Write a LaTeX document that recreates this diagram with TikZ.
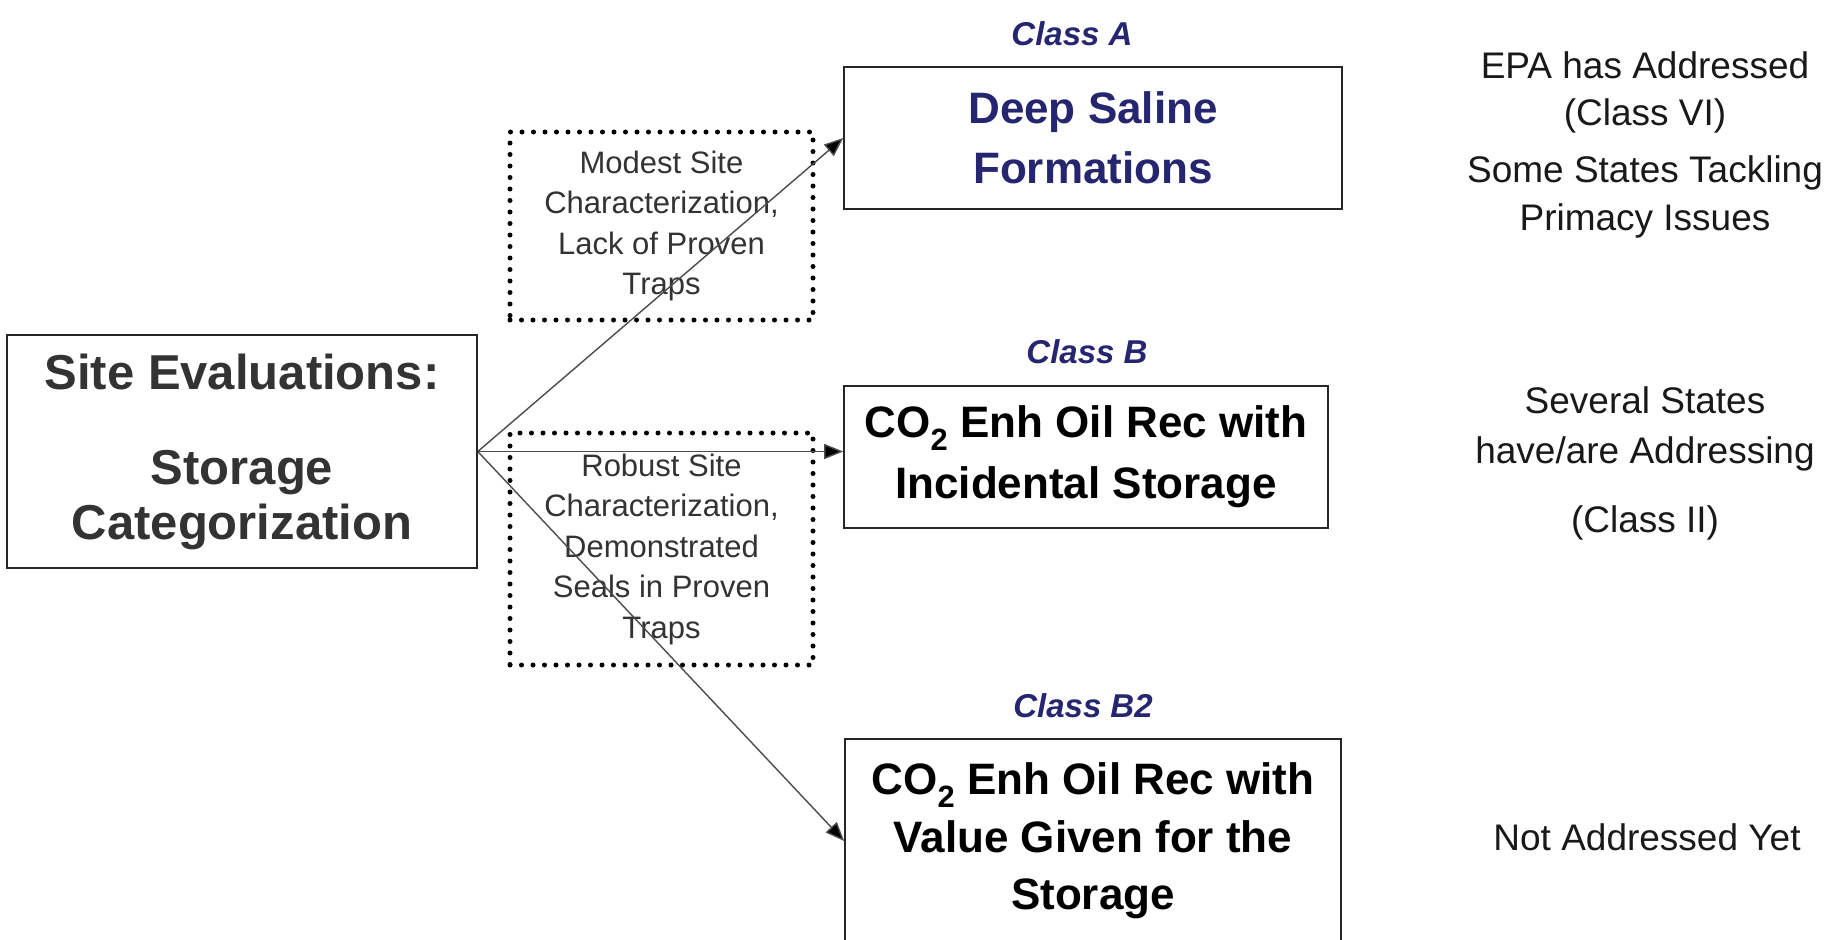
\documentclass[tikz,border=0pt]{standalone}
\usepackage{fontspec}
\setmainfont{Liberation Sans}
\usetikzlibrary{arrows.meta}
\definecolor{navy}{RGB}{38,38,112}
\begin{document}
\begin{tikzpicture}[x=1pt,y=-1pt,
  mainbox/.style={draw=black!85, line width=1.6pt, inner sep=0pt, align=center},
  dotbox/.style={draw=black, line width=5pt, dash pattern=on 0pt off 11.5pt, line cap=round, align=center, inner sep=0pt, text=black!80, font=\fontsize{31}{40.5}\selectfont},
  classlbl/.style={anchor=base, text=navy, font=\fontsize{33}{40}\selectfont\bfseries\itshape},
  note/.style={anchor=base, text=black!90, font=\fontsize{37}{44}\selectfont},
  conn/.style={draw=black!70, line width=1.4pt, -{Triangle[length=19pt,width=15pt,fill=black]}}
]
\clip (0,0) rectangle (1848,940);
\fill[white] (0,0) rectangle (1848,940);

\node[mainbox, minimum width=470pt, minimum height=233pt, text=black!80, font=\fontsize{49}{55}\selectfont\bfseries] (L) at (242,451.5) {Site Evaluations:\\[40pt]Storage\\Categorization};

\node[mainbox, minimum width=498pt, minimum height=142pt, text=navy, font=\fontsize{44}{60}\selectfont\bfseries] (A) at (1093,138) {Deep Saline\\Formations};
\node[mainbox, minimum width=484pt, minimum height=142pt, font=\fontsize{44}{61}\selectfont\bfseries] (B) at (1086,457) {CO\textsubscript{2} Enh Oil Rec with\\Incidental Storage};
\node[mainbox, minimum width=496pt, minimum height=204pt, font=\fontsize{44}{57.5}\selectfont\bfseries] (B2) at (1093,841) {CO\textsubscript{2} Enh Oil Rec with\\Value Given for the\\Storage};

\node[dotbox, minimum width=303pt, minimum height=188pt] (D1) at (661.5,226) {Modest Site\\Characterization,\\Lack of Proven\\Traps};
\node[dotbox, minimum width=303pt, minimum height=232pt] (D2) at (661.5,549) {Robust Site\\Characterization,\\Demonstrated\\Seals in Proven\\Traps};

\node[classlbl] (cA) at (1072,45) {Class A};
\node[classlbl] (cB) at (1087,363) {Class B};
\node[classlbl] (cB2) at (1083,717) {Class B2};

\node[note] (n1) at (1645,78) {EPA has Addressed};
\node[note] (n2) at (1645,125) {(Class VI)};
\node[note] (n3) at (1645,182) {Some States Tackling};
\node[note] (n4) at (1645,230) {Primacy Issues};
\node[note] (n5) at (1645,413) {Several States};
\node[note] (n6) at (1645,463) {have/are Addressing};
\node[note] (n7) at (1645,532) {(Class II)};
\node[note] (n8) at (1647,850) {Not Addressed Yet};

\draw[conn] (L.east) -- (A.west);
\draw[conn] (L.east) -- (L.east -| B.west);
\draw[conn] (L.east) -- (B2.west);
\end{tikzpicture}
\end{document}
